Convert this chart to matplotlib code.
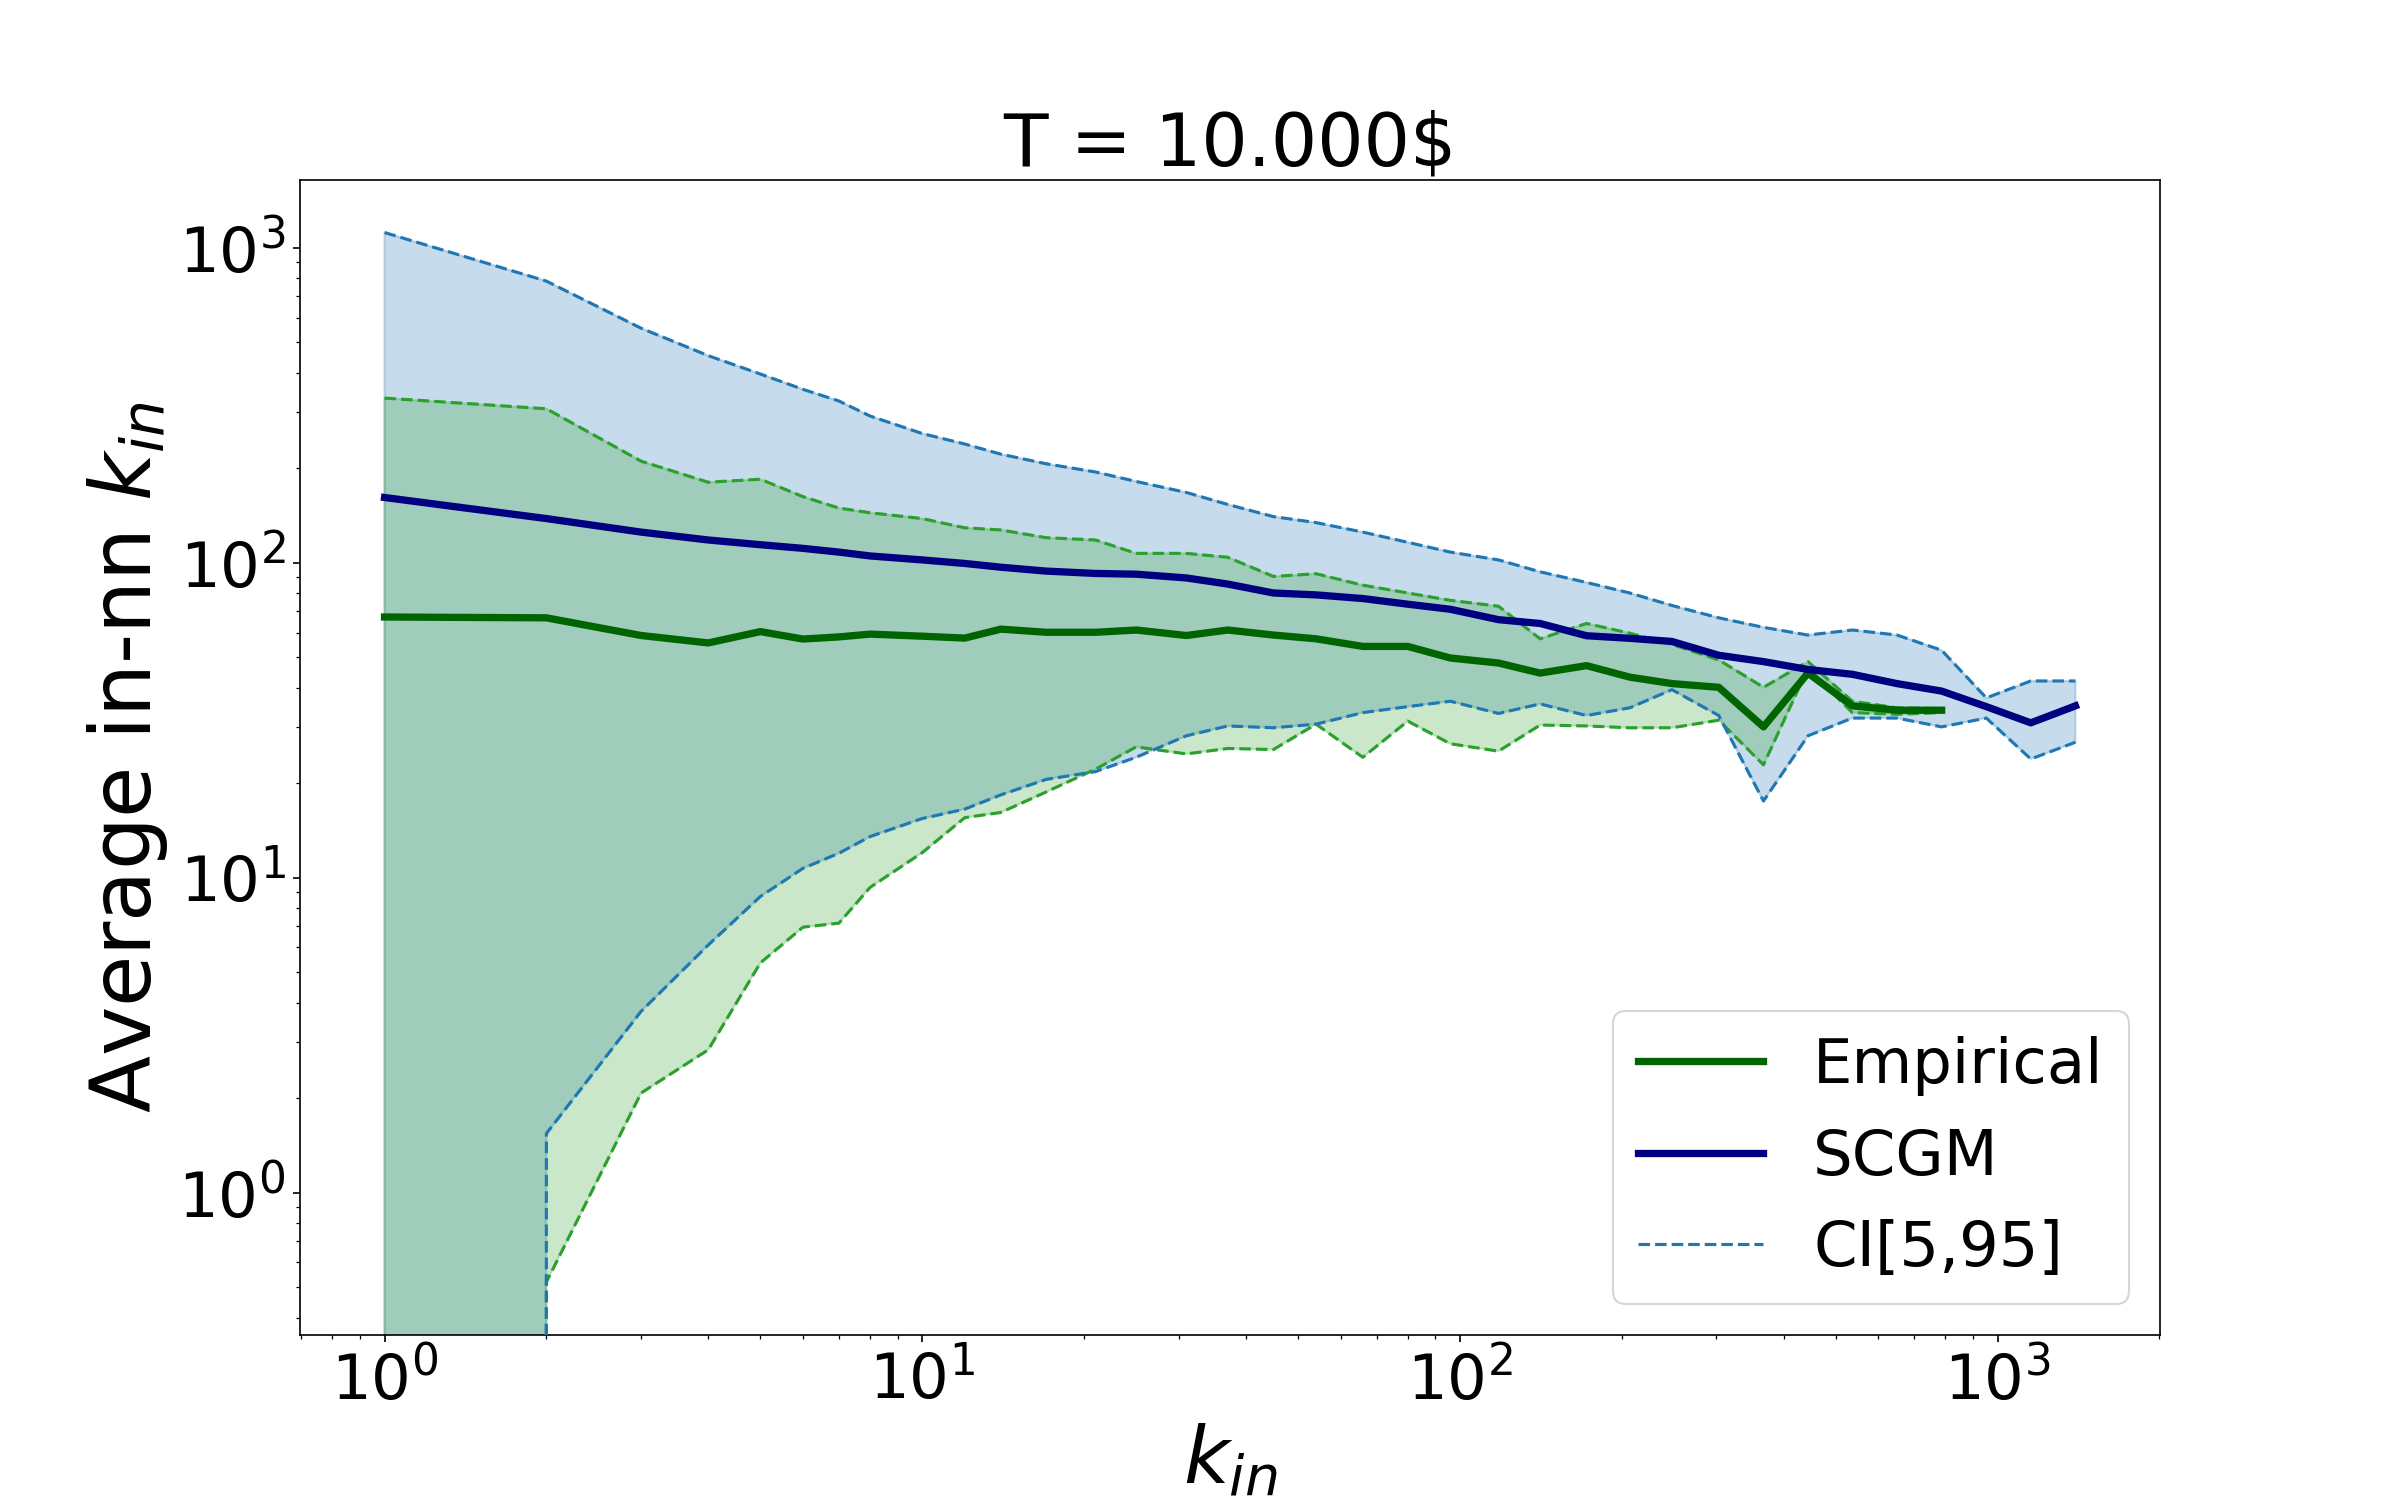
import numpy as np
import matplotlib
matplotlib.use('Agg')
import matplotlib.pyplot as plt

# in-degree bins
k_in = [1, 2, 3, 4, 5, 6, 7, 8, 10, 12, 14, 17, 21, 25, 31, 37, 45, 54, 66, 80,
        96, 118, 141, 172, 207, 248, 303, 367, 444, 537, 650, 787, 953, 1153, 1396]

# empirical average in-nn k_in and its CI (only up to k=787)
emp_mean = [67.2, 66.8, 58.7, 55.6, 60.4, 57.2, 58.1, 59.3, 58.4, 57.6, 61.5, 60.1, 60.1, 61.1, 58.7,
            61.1, 58.9, 57.3, 54.2, 54.2, 49.8, 48.0, 44.6, 47.1, 43.3, 41.3, 40.2, 30.1, 44.6, 35.1,
            34.0, 34.0]
emp_low = [0, 0.52, 2.07, 2.84, 5.36, 6.96, 7.17, 9.31, 12.0, 15.5, 16.1, 18.7, 22.1, 26.0, 24.7,
           25.7, 25.5, 30.7, 24.1, 31.4, 26.6, 25.2, 30.5, 30.3, 29.9, 29.9, 31.6, 22.8, 46.2, 33.4,
           33.0, 33.4]
emp_high = [333, 308, 210, 180, 184, 162, 149, 144, 138, 129, 127, 120, 118, 107, 107,
            104, 90.4, 92.2, 84.8, 80.1, 75.9, 72.7, 57.3, 64.1, 59.7, 55.0, 49.1, 40.2, 48.5, 36.3,
            34.6, 34.4]

# SCGM ensemble average and its CI
scgm_mean = [161, 138, 125, 118, 114, 111, 108, 105, 102, 99.4, 96.7, 94.0, 92.4, 91.9, 89.4,
             85.5, 80.1, 79.0, 76.9, 73.8, 71.1, 65.9, 64.1, 58.6, 57.5, 56.2, 50.8, 48.5, 45.8, 44.2,
             41.3, 39.1, 34.9, 31.0, 35.1]
scgm_low = [0, 1.54, 3.76, 6.11, 8.71, 10.7, 11.95, 13.5, 15.4, 16.5, 18.3, 20.5, 21.7, 24.1, 28.2,
            30.3, 29.9, 30.7, 33.4, 34.9, 36.3, 33.2, 35.6, 32.7, 34.6, 39.5, 32.7, 17.5, 28.2, 32.1,
            32.1, 30.1, 32.1, 23.8, 26.9]
scgm_high = [1117, 783, 555, 454, 397, 355, 326, 292, 257, 238, 221, 206, 194, 181, 167,
             153, 140, 134, 125, 116, 108, 102, 93.5, 86.5, 80.1, 73.1, 66.8, 62.3, 58.9, 61.1,
             58.9, 52.7, 37.2, 42.1, 42.1]

k_emp = k_in[:len(emp_mean)]

fig, ax = plt.subplots(figsize=(16, 10), dpi=150)

ax.plot(k_emp, emp_mean, color='darkgreen', lw=3.5, label='Empirical', zorder=4)
ax.fill_between(k_emp, emp_low, emp_high, color='tab:green', alpha=0.25, zorder=2)
ax.plot(k_emp, emp_low, color='tab:green', ls='--', lw=1.5, zorder=3)
ax.plot(k_emp, emp_high, color='tab:green', ls='--', lw=1.5, zorder=3)

ax.plot(k_in, scgm_mean, color='navy', lw=3.5, label='SCGM', zorder=4)
ax.fill_between(k_in, scgm_low, scgm_high, color='tab:blue', alpha=0.25, zorder=1)
ax.plot(k_in, scgm_low, color='tab:blue', ls='--', lw=1.5, label='CI[5,95]', zorder=3)
ax.plot(k_in, scgm_high, color='tab:blue', ls='--', lw=1.5, zorder=3)

ax.set_xscale('log')
ax.set_yscale('log')
ax.set_ylim(0.353, 1640)

ax.set_title('T = 10.000$', fontsize=35)
ax.set_xlabel('$k_{in}$', fontsize=38)
ax.set_ylabel('Average in-nn $k_{in}$', fontsize=40)
ax.tick_params(axis='both', which='major', labelsize=30)
ax.legend(loc='lower right', fontsize=30)

plt.savefig('out.png', dpi=150)
